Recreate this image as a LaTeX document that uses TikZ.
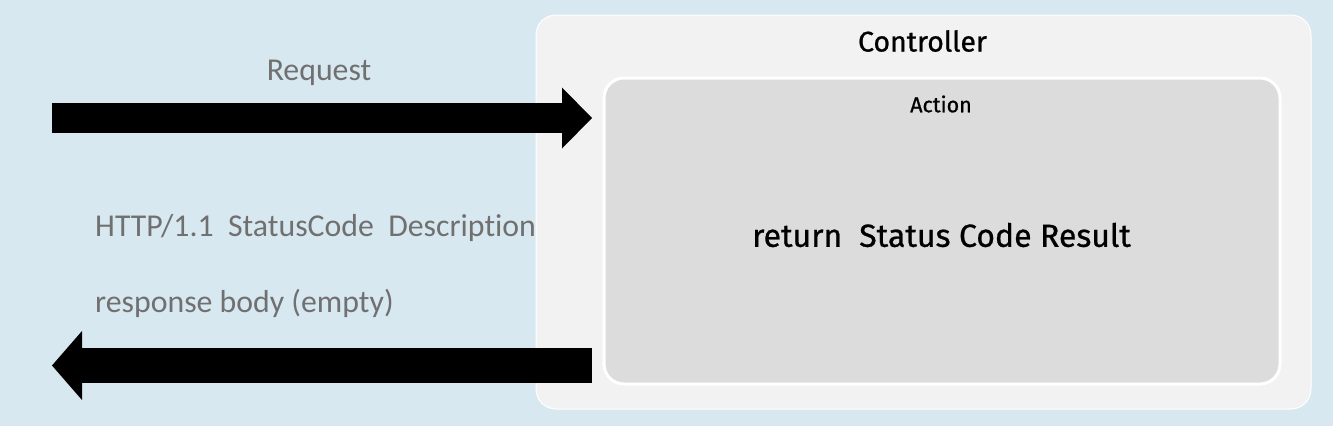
\documentclass[tikz,border=0pt]{standalone}
\usepackage{fontspec}
\setmainfont[Ligatures=NoCommon]{Carlito}
\newfontfamily\dinfont[FakeBold=0.8]{Fira Sans}
\usepackage{tikz}
\usetikzlibrary{arrows.meta}

\definecolor{bgblue}{RGB}{216,232,240}
\definecolor{ctrlgray}{RGB}{242,242,242}
\definecolor{actgray}{RGB}{220,220,220}
\definecolor{txtgray}{RGB}{112,112,112}

\tikzset{
  panel/.style={draw=white, rounded corners=20pt, inner sep=0pt},
  graytext/.style={text=txtgray, font=\fontsize{31.8}{36}\selectfont, inner sep=0pt},
  fatarrow/.style={draw=black, line cap=butt}
}

\begin{document}
\begin{tikzpicture}[x=1pt,y=-1pt]
\useasboundingbox[fill=bgblue] (0,0) rectangle (1333,426);

\node (controller) [panel, fill=ctrlgray, line width=1pt, minimum width=775pt, minimum height=394pt] at (923.5,212) {};
\node (ctrllabel) [font=\dinfont\fontsize{28.5}{32}\selectfont] at (922.5,41) {Controller};

\node (action) [panel, fill=actgray, line width=3pt, minimum width=676pt, minimum height=306pt] at (942,231) {};
\node (actlabel) [font=\dinfont\fontsize{21.5}{25}\selectfont] at (941,104) {Action};
\node (result) [font=\dinfont\fontsize{32}{36}\selectfont] at (941.5,235) {return~ Status Code Result};

\node (reqlabel) [graytext] at (319,73) {Request};
\node (statusline) [graytext, anchor=west] at (95,228) {HTTP/1.1~ StatusCode~ Description};
\node (bodyline) [graytext, anchor=west] at (95,303) {response body (empty)};

\coordinate (reqstart) at (52,118);
\coordinate (reqend) at (592,118);
\coordinate (respstart) at (592,365.5);
\coordinate (respend) at (52,365.5);

\draw[fatarrow, line width=30pt, -{Triangle[width=61pt,length=30pt,line width=0pt]}] (reqstart) -- (reqend);
\draw[fatarrow, line width=35pt, -{Triangle[width=69pt,length=30pt,line width=0pt]}] (respstart) -- (respend);
\end{tikzpicture}
\end{document}
